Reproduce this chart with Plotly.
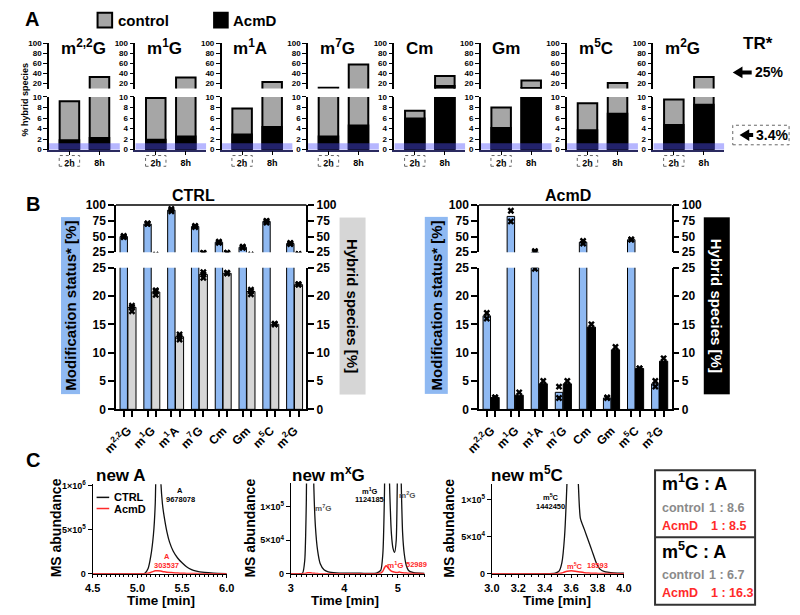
import plotly.graph_objects as go

FONT = "Liberation Sans, Arial, Helvetica, sans-serif"
W, H = 800, 615

# ======================= DATA =======================
# ---- Panel A: % hybrid species (stacked: AcmD black on control gray)
mods = ["m<sup>2,2</sup>G", "m<sup>1</sup>G", "m<sup>1</sup>A", "m<sup>7</sup>G",
        "Cm", "Gm", "m<sup>5</sup>C", "m<sup>2</sup>G"]
timepoints = ["2h", "8h"]
total_2h = [9.2, 9.8, 7.8, 11.5, 7.4, 8.0, 8.8, 9.5]
acmd_2h = [1.8, 1.9, 2.9, 2.5, 5.9, 4.1, 3.7, 4.7]
total_8h = [33, 32, 23, 58, 35, 26, 21, 33]
acmd_8h = [2.2, 2.5, 4.3, 4.6, 15, 11, 6.8, 8.5]
tr_band = 1.2
a_break = 10
a_upper_ticks = [20, 40, 60, 80, 100]
a_lower_ticks = [0, 2, 4, 6, 8, 10]

# ---- Panel B: modification status / hybrid species
ctrl_mod = [50, 70, 92, 66, 41, 33, 74, 39]
ctrl_hyb = [18, 20.7, 12.8, 23.8, 24, 20.8, 15, 22]
acmd_mod = [16.5, 82, 25, 3, 41, 2, 45, 4.5]
acmd_hyb = [2.1, 2.5, 4.5, 4.5, 14.5, 10.5, 7.2, 8.5]
ctrl_mod_reps = [[49, 51, 50], [70, 71, 70.5], [90, 94, 92], [65, 67, 66],
                 [40, 42, 41], [32, 34, 33], [72, 75, 74], [38, 40, 39]]
ctrl_hyb_reps = [[17.3, 18.3, 18], [20.2, 21.0, 20.8], [12.3, 13.2, 12.8], [23.2, 24.2, 23.8],
                 [24, 24, 24.1], [20.3, 21.1, 20.8], [15, 15, 15.1], [22, 22.1, 22]]
acmd_mod_reps = [[16.0, 17.0], [74, 91], [24.8, 27], [2, 4], [39, 43], [2, 2.1], [45, 45.5], [4, 5]]
acmd_hyb_reps = [[2.1, 2.1], [2, 3], [4.2, 5], [4.2, 5], [14.2, 15], [10.2, 11], [7.2, 7.2], [8.2, 9]]
b_upper_ticks = [25, 50, 75, 100]
b_lower_ticks = [0, 5, 10, 15, 20, 25]

# ---- Panel C: chromatograms
t_A = [4.50, 4.80, 5.00, 5.08, 5.12, 5.15, 5.18, 5.20, 5.23, 5.26, 5.28, 5.30, 5.33, 5.36,
       5.40, 5.45, 5.50, 5.55, 5.60, 5.66, 5.75, 5.85, 6.00]
ctrl_A = [0, 0, 0, 2e3, 6e4, 2e5, 4.5e5, 8e5, 2.5e6, 1.1e6, 8e5, 6.5e5, 4.8e5, 3.6e5,
          2.6e5, 1.8e5, 1.25e5, 8e4, 5e4, 3e4, 1.5e4, 7e3, 2e3]
acmd_A = [0, 0, 0, 500, 5e3, 1.5e4, 2.8e4, 3.4e4, 3.6e4, 3.2e4, 2.7e4, 2.3e4, 1.8e4, 1.5e4,
          1.2e4, 9e3, 6e3, 4e3, 3e3, 2e3, 1e3, 500, 0]

t_G = [3.00, 3.15, 3.22, 3.26, 3.29, 3.32, 3.36, 3.40, 3.43, 3.46, 3.50, 3.55, 3.62, 3.70,
       3.85, 4.00, 4.30, 4.60, 4.68, 4.72, 4.75, 4.78, 4.81, 4.85, 4.88, 4.91, 4.94, 4.97,
       5.00, 5.03, 5.06, 5.09, 5.12, 5.16, 5.20, 5.28, 5.40, 5.50]
ctrl_G = [0, 0, 1e3, 2e4, 1.1e5, 4e5, 6e5, 3e5, 1.3e5, 7e4, 3.5e4, 1.5e4, 6e3, 3e3,
          1.5e3, 1e3, 800, 1e3, 5e3, 3e4, 1.2e5, 4e5, 2.5e5, 1.2e5, 6e4, 3.8e4, 3.2e4, 5e4,
          2e5, 3e5, 1.5e5, 6e4, 3e4, 1.2e4, 5e3, 2e3, 800, 500]
acmd_G = [0, 0, 200, 500, 1e3, 1.5e3, 1.5e3, 1e3, 800, 500, 300, 200, 0, 0,
          0, 0, 0, 200, 1e3, 4e3, 9e3, 1.2e4, 1e4, 6e3, 4e3, 3e3, 2.5e3, 2e3,
          2e3, 2.5e3, 2e3, 1.5e3, 1.2e3, 1e3, 800, 500, 300, 200]

t_C = [3.00, 3.20, 3.40, 3.48, 3.51, 3.53, 3.55, 3.57, 3.60, 3.63, 3.655, 3.67, 3.70, 3.73,
       3.76, 3.79, 3.82, 3.86, 3.90, 3.95, 4.00]
ctrl_C = [0, 0, 200, 1e3, 4e3, 1.5e4, 5e4, 1.3e5, 3e5, 2.5e5, 1.2e5, 7.5e4, 6e4, 4.5e4,
          3e4, 1.5e4, 6e3, 2.5e3, 1.5e3, 1e3, 800]
acmd_C = [0, 0, 0, 100, 300, 1e3, 2.5e3, 3.5e3, 4e3, 3.5e3, 2.8e3, 2.3e3, 1.5e3, 1e3,
          800, 600, 500, 400, 300, 200, 200]

ratio_rows = [("m<sup>1</sup>G : A", "1 : 8.6", "1 : 8.5"),
              ("m<sup>5</sup>C : A", "1 : 6.7", "1 : 16.3")]

# ======================= HELPERS =======================
def px(x):
    return x / W


def py(y):
    return 1 - y / H


def tn(kind, n):
    return kind if n == 1 else f"{kind}{n}"


def ln(kind, n):
    return f"{kind}axis" if n == 1 else f"{kind}axis{n}"


def fnt(size, color="black"):
    return dict(family=FONT, size=size, color=color, weight="bold")


AX = dict(showgrid=False, zeroline=False, showline=True, linecolor="black", linewidth=1.5,
          ticks="outside", tickcolor="black", tickwidth=1.5, fixedrange=True)

GRAY_A = "#a6a6a6"
BLUE = "#8fb9f2"
GRAY_B = "#d6d6d6"
RED = "#ff2a2a"

fig = go.Figure()
layout = {}
shapes = []
annos = []


def ann(text, x, y, size, color="black", xanchor="center", yanchor="middle", **kw):
    d = dict(text=text, x=px(x), y=py(y), xref="paper", yref="paper", showarrow=False,
             font=fnt(size, color), xanchor=xanchor, yanchor=yanchor)
    d.update(kw)
    annos.append(d)


def arrow_path(tip_x, y, base_x, end_x, half_head=6, half_shaft=2):
    pts = [(tip_x, y), (base_x, y - half_head), (base_x, y - half_shaft), (end_x, y - half_shaft),
           (end_x, y + half_shaft), (base_x, y + half_shaft), (base_x, y + half_head)]
    return "M " + " L ".join(f"{px(a):.5f},{py(b):.5f}" for a, b in pts) + " Z"


def above(vals, cut):
    return [v if v > cut else None for v in vals]


# ======================= PANEL A =======================
for i in range(8):
    xn = i + 1
    yl, yu = 2 * i + 1, 2 * i + 2
    x0 = 35 + 88.9 * i
    layout[ln("x", xn)] = dict(AX, domain=[px(x0), px(x0 + 73)], anchor=tn("y", yl),
                               range=[-0.68, 1.68], linecolor="#2a2a60", ticklen=4, tickwidth=1,
                               tickfont=fnt(9), type="category")
    layout[ln("y", yl)] = dict(AX, domain=[py(146), py(92)], anchor=tn("x", xn), range=[0, 10],
                               tickvals=a_lower_ticks, ticklen=4, tickwidth=1, tickfont=fnt(8))
    layout[ln("y", yu)] = dict(AX, domain=[py(83.4), py(37.3)], anchor=tn("x", xn),
                               range=[10, 100], tickvals=a_upper_ticks, ticklen=4, tickwidth=1,
                               tickfont=fnt(8))
    tot = [total_2h[i], total_8h[i]]
    acm = [acmd_2h[i], acmd_8h[i]]
    for yy, tv, av in ((yl, tot, acm), (yu, above(tot, a_break), above(acm, a_break))):
        fig.add_trace(go.Bar(x=timepoints, y=tv, width=0.65,
                             marker=dict(color=GRAY_A, line=dict(color="black", width=2)),
                             xaxis=tn("x", xn), yaxis=tn("y", yy), showlegend=False,
                             name="control"))
        fig.add_trace(go.Bar(x=timepoints, y=av, width=0.65,
                             marker=dict(color="black", line=dict(color="black", width=2)),
                             xaxis=tn("x", xn), yaxis=tn("y", yy), showlegend=False,
                             name="AcmD"))
    # TR band
    shapes.append(dict(type="rect", xref=tn("x", xn), yref=tn("y", yl), x0=-0.68, x1=1.68,
                       y0=0, y1=tr_band, fillcolor="rgba(80,80,255,0.42)", line=dict(width=0),
                       layer="above"))
    # dashed box round "2h"
    shapes.append(dict(type="rect", xref=tn("x", xn), yref="paper", x0=-0.34, x1=0.34,
                       y0=py(163), y1=py(152), line=dict(color="#666", width=1, dash="dot")))
    ann(mods[i], x0 + 10, 54, 17, xanchor="left", yanchor="bottom")

ann("A", 18, 12, 20)
shapes.append(dict(type="rect", xref="paper", yref="paper", x0=px(85), x1=px(100), y0=py(21),
                   y1=py(6), fillcolor=GRAY_A, line=dict(color="black", width=2)))
ann("control", 104, 13.5, 15, xanchor="left")
shapes.append(dict(type="rect", xref="paper", yref="paper", x0=px(205), x1=px(219), y0=py(21),
                   y1=py(6), fillcolor="black", line=dict(color="black", width=2)))
ann("AcmD", 222, 13.5, 15, xanchor="left")
ann("% hybrid species", 10, 95, 9, textangle=-90)
ann("TR*", 765, 37, 17)
shapes.append(dict(type="path", xref="paper", yref="paper", path=arrow_path(739, 67, 749, 758.5),
                   fillcolor="black", line=dict(width=0)))
ann("25%", 759.5, 67, 14, xanchor="left")
shapes.append(dict(type="path", xref="paper", yref="paper", path=arrow_path(746, 131, 756, 760),
                   fillcolor="black", line=dict(width=0)))
ann("3.4%", 760.5, 131, 14, xanchor="left")
shapes.append(dict(type="rect", xref="paper", yref="paper", x0=px(739), x1=px(797), y0=py(141),
                   y1=py(121), line=dict(color="#666", width=1, dash="dot")))

# ======================= PANEL B =======================
idx = list(range(len(mods)))
panels_B = [
    (9, 17, 104, 300, ctrl_mod, ctrl_hyb, ctrl_mod_reps, ctrl_hyb_reps, GRAY_B, "CTRL", 183.3),
    (10, 21, 477.7, 676, acmd_mod, acmd_hyb, acmd_mod_reps, acmd_hyb_reps, "black", "AcmD", 569.3),
]
for (xn, yb, xa, xb, modv, hybv, modr, hybr, hcol, title, tx) in panels_B:
    ylow, yup, yrl, yru = yb, yb + 1, yb + 2, yb + 3
    layout[ln("x", xn)] = dict(AX, domain=[px(xa), px(xb)], anchor=tn("y", ylow),
                               range=[-0.5, 7.5], tickvals=idx, ticktext=mods, tickangle=-45,
                               ticklen=8, tickcolor="rgba(0,0,0,0)", tickfont=fnt(12),
                               minor=dict(tickvals=[v + o for v in idx for o in (-0.17, 0.17)],
                                          ticks="outside", ticklen=6, tickcolor="black",
                                          tickwidth=1.5))
    common_low = dict(domain=[py(411.7), py(266.7)], range=[0, 25], tickvals=b_lower_ticks,
                      ticklen=6, tickfont=fnt(12))
    common_up = dict(domain=[py(251), py(202.7)], range=[25, 100], tickvals=b_upper_ticks,
                     ticklen=6, tickfont=fnt(12))
    layout[ln("y", ylow)] = dict(AX, anchor=tn("x", xn), **common_low)
    layout[ln("y", yup)] = dict(AX, anchor=tn("x", xn), **common_up)
    cl = dict(common_low)
    cl.pop("domain")
    cu = dict(common_up)
    cu.pop("domain")
    layout[ln("y", yrl)] = dict(AX, anchor=tn("x", xn), side="right", overlaying=tn("y", ylow), **cl)
    layout[ln("y", yru)] = dict(AX, anchor=tn("x", xn), side="right", overlaying=tn("y", yup), **cu)
    for yy in (yrl, yru):
        fig.add_trace(go.Scatter(x=[0], y=[0], mode="markers", marker=dict(opacity=0),
                                 xaxis=tn("x", xn), yaxis=tn("y", yy), showlegend=False,
                                 hoverinfo="skip"))
    mx = [i - 0.175 for i, r in enumerate(modr) for _ in r]
    my = [v for r in modr for v in r]
    hx = [i + 0.17 for i, r in enumerate(hybr) for _ in r]
    hy = [v for r in hybr for v in r]
    for yy in (ylow, yup):
        fig.add_trace(go.Bar(x=idx, y=modv, offset=-0.33, width=0.31,
                             marker=dict(color=BLUE, line=dict(color="black", width=1)),
                             xaxis=tn("x", xn), yaxis=tn("y", yy), showlegend=False,
                             name="Modification status"))
        fig.add_trace(go.Bar(x=idx, y=hybv, offset=0.0, width=0.34,
                             marker=dict(color=hcol, line=dict(color="black", width=1)),
                             xaxis=tn("x", xn), yaxis=tn("y", yy), showlegend=False,
                             name="Hybrid species"))
        fig.add_trace(go.Scatter(x=mx, y=my, mode="markers",
                                 marker=dict(symbol="x", size=6, color="black"),
                                 xaxis=tn("x", xn), yaxis=tn("y", yy), showlegend=False))
        fig.add_trace(go.Scatter(x=hx, y=hy, mode="markers",
                                 marker=dict(symbol="x", size=6, color="black"),
                                 xaxis=tn("x", xn), yaxis=tn("y", yy), showlegend=False))
    shapes.append(dict(type="line", xref=f"{tn('x', xn)} domain", yref=f"{tn('y', yup)} domain",
                       x0=0, x1=1, y0=1, y1=1, line=dict(color="black", width=1.5)))
    ann(title, tx, 192.7, 16)

ann("B", 19, 202, 20)
ann("Modification status* [%]", 56.7, 305.5, 15, textangle=-90, bgcolor=BLUE, width=176,
    height=18, borderpad=0)
ann("Hybrid species [%]", 347.5, 305.5, 15, textangle=90, bgcolor=GRAY_B, width=176,
    height=25, borderpad=0)
ann("Modification status* [%]", 433.3, 305.5, 15, textangle=-90, bgcolor=BLUE, width=176,
    height=22, borderpad=0)
ann("Hybrid species [%]", 722.5, 305.5, 15, "white", textangle=90, bgcolor="black", width=176,
    height=25, borderpad=0)

# ======================= PANEL C =======================
panels_C = [
    (11, 25, 80, 218, [4.5, 6.0], [4.5, 5.0, 5.5, 6.0], ["4.5", "5.0", "5.5", "6.0"], 0.05,
     488.3, [0, 1.02e6], [0, 5e5, 1e6], ["0", "5×10<sup>5</sup>", "1×10<sup>6</sup>"],
     t_A, ctrl_A, acmd_A),
    (12, 26, 284, 421.7, [3, 5.5], [3, 4, 5], ["3", "4", "5"], 0.1,
     487.5, [0, 1.35e5], [0, 5e4, 1e5], ["0", "5×10<sup>4</sup>", "1×10<sup>5</sup>"],
     t_G, ctrl_G, acmd_G),
    (13, 27, 491, 627, [3.0, 4.0], [3.0, 3.2, 3.4, 3.6, 3.8, 4.0],
     ["3.0", "3.2", "3.4", "3.6", "3.8", "4.0"], 0.05,
     488, [0, 1.215e5], [0, 5e4, 1e5], ["0", "5×10<sup>4</sup>", "1×10<sup>5</sup>"],
     t_C, ctrl_C, acmd_C),
]
for (xn, yn, xa, xb, xr, xtv, xtt, mdt, ytop, yr, ytv, ytt, tt, cc, aa) in panels_C:
    layout[ln("x", xn)] = dict(AX, domain=[px(xa), px(xb)], anchor=tn("y", yn), range=xr,
                               tickvals=xtv, ticktext=xtt, ticklen=3.5, tickwidth=1.2,
                               linewidth=1.2, tickfont=fnt(11),
                               minor=dict(dtick=mdt, ticks="outside", ticklen=2,
                                          tickcolor="black", tickwidth=1))
    layout[ln("y", yn)] = dict(AX, domain=[py(580), py(ytop)], anchor=tn("x", xn), range=yr,
                               tickvals=ytv, ticktext=ytt, ticklen=4, tickwidth=1.2,
                               linewidth=1.2, tickfont=fnt(9))
    fig.add_trace(go.Scatter(x=tt, y=cc, mode="lines", line=dict(color="#111", width=1.3,
                                                                    shape="spline", smoothing=0.6),
                             xaxis=tn("x", xn), yaxis=tn("y", yn), showlegend=False, name="CTRL"))
    fig.add_trace(go.Scatter(x=tt, y=aa, mode="lines", line=dict(color=RED, width=1.5,
                                                                    shape="spline", smoothing=0.6),
                             xaxis=tn("x", xn), yaxis=tn("y", yn), showlegend=False, name="AcmD"))

ann("C", 19, 464, 20)
ann("new A", 81, 491, 17, xanchor="left", yanchor="bottom")
ann("new m<sup>x</sup>G", 283, 491, 17, xanchor="left", yanchor="bottom")
ann("new m<sup>5</sup>C", 488, 491, 17, xanchor="left", yanchor="bottom")
for xx in (41.7, 241.7, 446.7):
    ann("MS abundance", xx, 533, 14, textangle=-90)
for xx in (150, 340, 558.3):
    ann("Time [min]", xx, 607.5, 13.5)

# legend of C1
shapes.append(dict(type="line", xref="paper", yref="paper", x0=px(84), x1=px(97), y0=py(501.8),
                   y1=py(501.8), line=dict(color="#111", width=1.5)))
shapes.append(dict(type="line", xref="paper", yref="paper", x0=px(84), x1=px(97), y0=py(513.2),
                   y1=py(513.2), line=dict(color=RED, width=1.5)))
ann("CTRL", 100, 501.8, 11, xanchor="left")
ann("AcmD", 100, 513.2, 11, xanchor="left")

# peak labels
ann("A", 170, 495, 7.5)
ann("9678078", 170, 503.5, 7.5)
ann("A", 156, 562.7, 7.5, RED)
ann("303537", 156, 571.7, 7.5, RED)
ann("m<sup>7</sup>G", 317.5, 512.3, 8, "#555")
ann("m<sup>1</sup>G", 365, 495, 7.5)
ann("1124185", 365, 504, 7.5)
ann("m<sup>2</sup>G", 404, 499.3, 8, "#555")
ann("m<sup>1</sup>G", 391.7, 570.7, 8, RED)
ann("52989", 413.3, 570.7, 7.5, RED)
ann("m<sup>5</sup>C", 551.7, 501, 7.5)
ann("1442450", 551.7, 510.7, 7.5)
ann("m<sup>5</sup>C", 576.7, 571.7, 7.5, RED)
ann("18593", 600, 571.7, 7.5, RED)

# ratio box
shapes.append(dict(type="rect", xref="paper", yref="paper", x0=px(659), x1=px(762), y0=py(611.7),
                   y1=py(474), line=dict(color="#333", width=2)))
shapes.append(dict(type="line", xref="paper", yref="paper", x0=px(659), x1=px(762),
                   y0=py(542.7), y1=py(542.7), line=dict(color="#333", width=2)))
for k, (head, rc, ra) in enumerate(ratio_rows):
    y0 = 487 + 68.7 * k
    ann(head, 664, y0, 18, xanchor="left")
    ann("control", 664, y0 + 26, 12.5, "#8a8a8a", xanchor="left")
    ann(rc, 712.7, y0 + 26, 12.5, "#8a8a8a", xanchor="left")
    ann("AcmD", 664, y0 + 44, 12.5, RED, xanchor="left")
    ann(ra, 715, y0 + 44, 12.5, RED, xanchor="left")

layout.update(dict(width=W, height=H, margin=dict(l=0, r=0, t=0, b=0), barmode="overlay",
                   plot_bgcolor="white", paper_bgcolor="white", font=fnt(11),
                   shapes=shapes, annotations=annos, showlegend=False))
fig.update_layout(layout)
fig.write_html("out.html")
